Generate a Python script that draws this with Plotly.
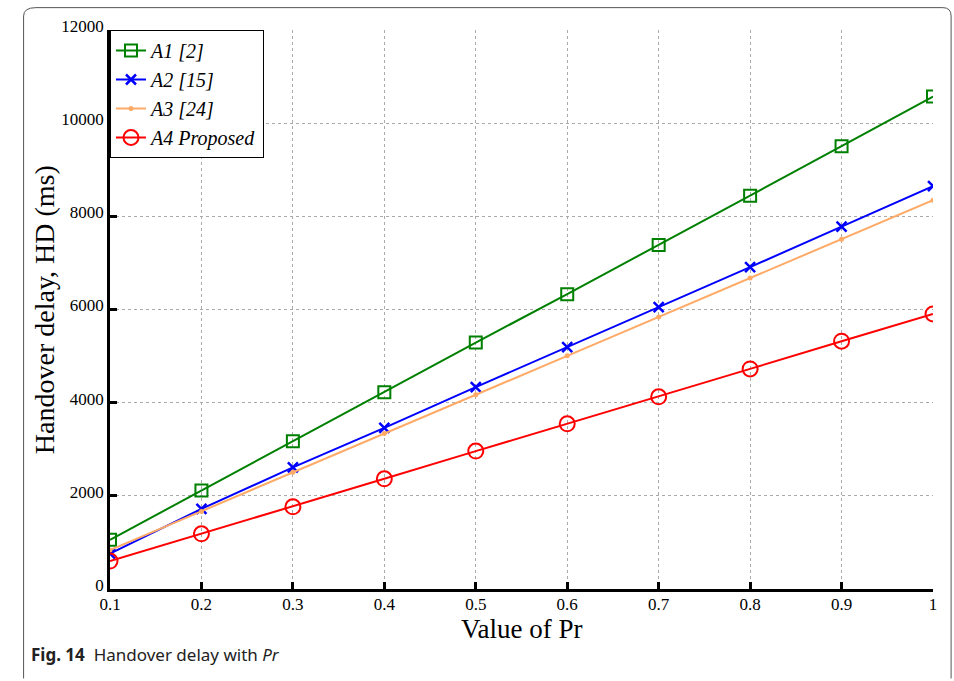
import plotly.graph_objects as go

pr = [0.1, 0.2, 0.3, 0.4, 0.5, 0.6, 0.7, 0.8, 0.9, 1.0]
a1 = [1055, 2115, 3170, 4225, 5290, 6330, 7385, 8440, 9505, 10570]
a2 = [760, 1720, 2610, 3460, 4335, 5190, 6050, 6910, 7780, 8650]
a3 = [835, 1665, 2505, 3340, 4170, 5005, 5840, 6675, 7510, 8345]
a4 = [600, 1185, 1765, 2365, 2960, 3545, 4125, 4725, 5320, 5905]

names = ["A1 [2]", "A2 [15]", "A3 [24]", "A4 Proposed"]
xticks = [0.1, 0.2, 0.3, 0.4, 0.5, 0.6, 0.7, 0.8, 0.9, 1.0]
xticklabels = ["0.1", "0.2", "0.3", "0.4", "0.5", "0.6", "0.7", "0.8", "0.9", "1"]
yticks = [0, 2000, 4000, 6000, 8000, 10000, 12000]
yticklabels = ["0", "2000", "4000", "6000", "8000", "10000", "12000"]

serif = "Liberation Serif, Times New Roman, serif"

fig = go.Figure()
fig.add_trace(go.Scatter(x=pr, y=a1, name=names[0], mode="lines+markers",
                         line=dict(color="#008000", width=2),
                         marker=dict(symbol="square-open", size=12, color="#008000", line=dict(width=2))))
fig.add_trace(go.Scatter(x=pr, y=a2, name=names[1], mode="lines+markers",
                         line=dict(color="#0000ff", width=2),
                         marker=dict(symbol="x-thin-open", size=10, color="#0000ff", line=dict(width=2.5, color="#0000ff"))))
fig.add_trace(go.Scatter(x=pr, y=a3, name=names[2], mode="lines+markers",
                         line=dict(color="#ffaa66", width=2),
                         marker=dict(symbol="circle", size=5, color="#ffaa66")))
fig.add_trace(go.Scatter(x=pr, y=a4, name=names[3], mode="lines+markers",
                         line=dict(color="#ff0000", width=2),
                         marker=dict(symbol="circle-open", size=15, color="#ff0000", line=dict(width=2))))

fig.update_layout(
    width=954, height=681,
    margin=dict(l=110, r=21, t=30, b=92),
    paper_bgcolor="white", plot_bgcolor="white",
    font=dict(family=serif, color="black"),
    showlegend=True,
    legend=dict(x=0, y=1, xanchor="left", yanchor="top",
                bgcolor="white", bordercolor="black", borderwidth=1,
                font=dict(family=serif, size=20, style="italic"),
                tracegroupgap=0, itemwidth=30),
    xaxis=dict(range=[0.1, 1.0], tickvals=xticks, ticktext=xticklabels,
               showline=True, linecolor="black", linewidth=2.5,
               ticks="inside", ticklen=7, tickwidth=2.5, tickcolor="black",
               showgrid=True, gridcolor="#aaaaaa", griddash="dot", gridwidth=1,
               zeroline=False, tickfont=dict(family=serif, size=17),
               ticklabelstandoff=-2),
    yaxis=dict(range=[0, 12000], tickvals=yticks, ticktext=yticklabels,
               showline=True, linecolor="black", linewidth=2.5,
               ticks="inside", ticklen=7, tickwidth=2.5, tickcolor="black",
               showgrid=True, gridcolor="#aaaaaa", griddash="dot", gridwidth=1,
               zeroline=False, tickfont=dict(family=serif, size=17),
               ticklabelshift=-4),
)

# axis titles
fig.add_annotation(xref="paper", yref="paper", x=0.5, y=-0.0716, xanchor="center", yanchor="middle",
                   showarrow=False, text="Value of Pr", font=dict(family=serif, size=27))
fig.add_annotation(xref="paper", yref="paper", x=-0.0794, y=0.5, xanchor="center", yanchor="middle",
                   showarrow=False, textangle=-90, text="Handover delay, HD (ms)",
                   font=dict(family=serif, size=28))

# outer frame with rounded top corners
fig.add_shape(type="path", xref="paper", yref="paper",
              path="M -0.105,-0.16 L -0.105,1.025 Q -0.105,1.04 -0.09,1.04 L 1.012,1.04 Q 1.022,1.04 1.022,1.025 L 1.022,-0.16",
              line=dict(color="#555555", width=1))

fig.add_annotation(xref="paper", yref="paper", x=-0.098, y=-0.118, xanchor="left", yanchor="middle",
                   showarrow=False,
                   text="<b>Fig. 14</b>  Handover delay with <i>Pr</i>",
                   font=dict(family="Noto Sans, Open Sans, sans-serif", size=17, color="#222222"))

fig.write_html("out.html")
